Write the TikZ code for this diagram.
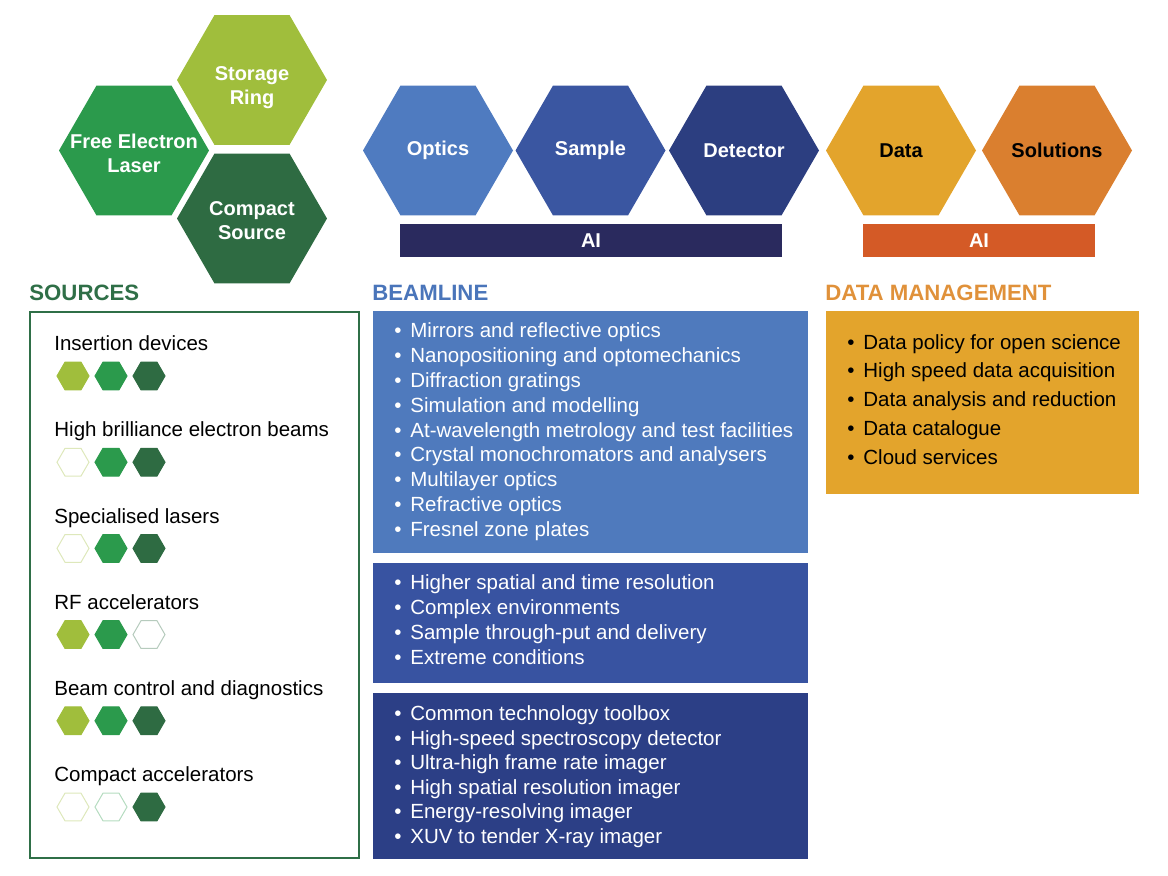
\documentclass[tikz,border=0pt]{standalone}
\usepackage{fontspec}
\setmainfont{Liberation Sans}
\usetikzlibrary{shapes.geometric,positioning}
% Farben
\definecolor{lgreen}{HTML}{A0BE3C}
\definecolor{mgreen}{HTML}{2B9A4C}
\definecolor{dgreen}{HTML}{2E6B42}
\definecolor{srcgreen}{HTML}{2F6F47}
\definecolor{optblue}{HTML}{4F7BC0}
\definecolor{smpblue}{HTML}{3A56A1}
\definecolor{detblue}{HTML}{2C3E80}
\definecolor{aiblue}{HTML}{2A2A5E}
\definecolor{blhead}{HTML}{4A75BA}
\definecolor{boxa}{HTML}{4F7ABD}
\definecolor{boxb}{HTML}{3853A1}
\definecolor{boxc}{HTML}{2C3F86}
\definecolor{datayel}{HTML}{E3A42C}
\definecolor{solorange}{HTML}{DA7F2F}
\definecolor{aiorange}{HTML}{D45A26}
\definecolor{dmhead}{HTML}{E0913A}
\newcommand{\blt}{\makebox[8pt][l]{\textbullet}}

\begin{document}
\begin{tikzpicture}[x=0.5pt, y=-0.5pt,
    bighex/.style={regular polygon, regular polygon sides=6,
                   minimum size=75pt, inner sep=0pt, outer sep=0pt},
    smallhex/.style={regular polygon, regular polygon sides=6,
                   minimum size=16pt, inner sep=0pt, line width=0.5pt},
    on/.style={fill=#1, draw=#1},
    off/.style={fill=white, draw=#1!35},
    hextext/.style={text=#1, font=\fontsize{10}{12}\selectfont\bfseries, align=center, inner sep=0pt},
    hextext/.default=white,
    aibar/.style={fill=#1, text=white, font=\fontsize{10}{12}\selectfont\bfseries,
                  minimum height=16.5pt, inner sep=0pt},
    head/.style={anchor=base west, inner sep=0pt, font=\fontsize{11.1}{13}\selectfont\bfseries},
    item/.style={anchor=base west, inner sep=0pt, text=#1, font=\fontsize{10.25}{12}\selectfont},
    item/.default=white,
    listbox/.style={anchor=north west, inner sep=0pt, outer sep=0pt, fill=#1}]
  \useasboundingbox (0,0) rectangle (1168,876);

  % Quellen-Waben
  \node[bighex, fill=mgreen] (fel) at (134,150.5) {};
  \node[bighex, fill=lgreen] (ring) at (252,80) {};
  \node[bighex, fill=dgreen] (compact) at (252,218.5) {};
  \node[hextext] (fel-t) at ([yshift=-1.5pt]fel) {Free Electron\\Laser};
  \node[hextext] (ring-t) at ([yshift=-4pt]ring) {Storage\\Ring};
  \node[hextext] (compact-t) at ([yshift=-1pt]compact) {Compact\\Source};

  % Beamline-Waben
  \node[bighex, fill=optblue] (optics) at (438,150.5) {};
  \node[bighex, fill=smpblue] (sample) at (590.5,150.5) {};
  \node[bighex, fill=detblue] (detector) at (744,150.5) {};
  \node[hextext] (optics-t) at (optics) {Optics};
  \node[hextext] (sample-t) at (sample) {Sample};
  \node[hextext] (detector-t) at (detector) {Detector};
  \node[aibar=aiblue, minimum width=191pt] (ai-bl) at (591,240.5) {AI};

  % Daten-Waben
  \node[bighex, fill=datayel] (data) at (901,150.5) {};
  \node[bighex, fill=solorange] (solutions) at (1057,150.5) {};
  \node[hextext=black] (data-t) at (data) {Data};
  \node[hextext=black] (solutions-t) at (solutions) {Solutions};
  \node[aibar=aiorange, minimum width=116pt] (ai-dm) at (979,240.5) {AI};

  % Ueberschriften
  \node[head, text=srcgreen] (h-src) at (29,300.7) {SOURCES};
  \node[head, text=blhead] (h-bl) at (372,300.7) {BEAMLINE};
  \node[head, text=dmhead] (h-dm) at (825,300.3) {DATA MANAGEMENT};

  % SOURCES
  \node[listbox=none, draw=srcgreen, line width=1pt, minimum width=164.5pt, minimum height=273pt] (srcbox) at (30,312) {};
  \foreach \txt/\a/\b/\c [count=\i] in {Insertion devices/on/on/on,
      High brilliance electron beams/off/on/on, Specialised lasers/off/on/on,
      RF accelerators/on/on/off, Beam control and diagnostics/on/on/on,
      Compact accelerators/off/off/on}
  {
    \node[item=black] (src-\i) at (54,{350.7+86.2*(\i-1)}) {\txt};
    \node[smallhex, \a=lgreen] (src-\i-a) at (73,{376+86.2*(\i-1)}) {};
    \node[smallhex, \b=mgreen] (src-\i-b) at (111,{376+86.2*(\i-1)}) {};
    \node[smallhex, \c=dgreen] (src-\i-c) at (149,{376+86.2*(\i-1)}) {};
  }

  % BEAMLINE
  \node[listbox=boxa, minimum width=217.8pt, minimum height=121pt] (bl-a) at (372.7,310.7) {};
  \node[listbox=boxb, minimum width=217.8pt, minimum height=60.3pt] (bl-b) at (372.7,562.7) {};
  \node[listbox=boxc, minimum width=217.8pt, minimum height=83pt] (bl-c) at (372.7,693.3) {};
  \foreach \txt [count=\i] in {Mirrors and reflective optics, Nanopositioning and optomechanics,
      Diffraction gratings, Simulation and modelling, At-wavelength metrology and test facilities,
      Crystal monochromators and analysers, Multilayer optics, Refractive optics, Fresnel zone plates}
    \node[item] (bl-a-\i) at (394,{337.5+24.9*(\i-1)}) {\blt\txt};
  \foreach \txt [count=\i] in {Higher spatial and time resolution, Complex environments,
      Sample through-put and delivery, Extreme conditions}
    \node[item] (bl-b-\i) at (394,{590+24.7*(\i-1)}) {\blt\txt};
  \foreach \txt [count=\i] in {Common technology toolbox, High-speed spectroscopy detector,
      Ultra-high frame rate imager, High spatial resolution imager, Energy-resolving imager,
      XUV to tender X-ray imager}
    \node[item] (bl-c-\i) at (394,{720.7+24.5*(\i-1)}) {\blt\txt};

  % DATA MANAGEMENT
  \node[listbox=datayel, minimum width=156.5pt, minimum height=91.7pt] (dmbox) at (826,310.7) {};
  \foreach \txt [count=\i] in {Data policy for open science, High speed data acquisition,
      Data analysis and reduction, Data catalogue, Cloud services}
    \node[item=black] (dm-\i) at (847,{349.3+28.7*(\i-1)}) {\blt\txt};
\end{tikzpicture}
\end{document}
